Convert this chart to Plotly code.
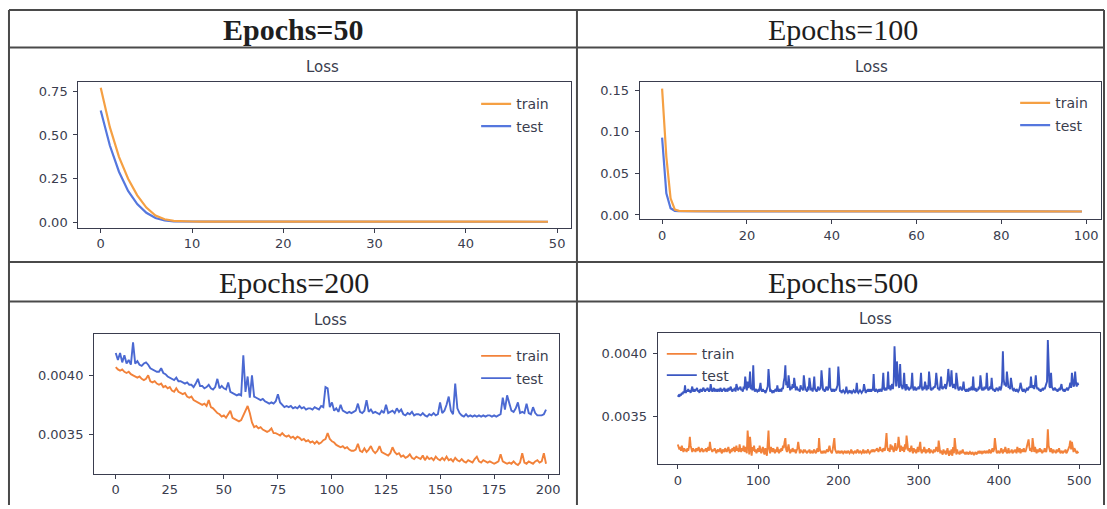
import plotly.graph_objects as go

W, H = 1107, 509

# ---------------- data ----------------
train_50 = [
    0.770, 0.545, 0.375, 0.250, 0.155, 0.085, 0.040, 0.018, 0.009, 0.006,
    0.0055, 0.0052, 0.0050, 0.0049, 0.0048, 0.0048, 0.0047, 0.0047, 0.0046, 0.0046,
    0.0046, 0.0045, 0.0045, 0.0045, 0.0045, 0.0044, 0.0044, 0.0044, 0.0044, 0.0044,
    0.0043, 0.0043, 0.0043, 0.0043, 0.0043, 0.0043, 0.0042, 0.0042, 0.0042, 0.0042,
    0.0042, 0.0042, 0.0042, 0.0041, 0.0041, 0.0041, 0.0041, 0.0041, 0.0041, 0.0041,
]
test_50 = [
    0.640, 0.440, 0.290, 0.180, 0.105, 0.055, 0.025, 0.011, 0.006, 0.0050,
    0.0048, 0.0047, 0.0046, 0.0046, 0.0045, 0.0045, 0.0045, 0.0044, 0.0044, 0.0044,
    0.0044, 0.0044, 0.0043, 0.0043, 0.0043, 0.0043, 0.0043, 0.0043, 0.0042, 0.0042,
    0.0042, 0.0042, 0.0042, 0.0042, 0.0042, 0.0041, 0.0041, 0.0041, 0.0041, 0.0041,
    0.0041, 0.0041, 0.0041, 0.0040, 0.0040, 0.0040, 0.0040, 0.0040, 0.0040, 0.0040,
]

train_100 = [
    0.152, 0.070, 0.020, 0.0065, 0.0050, 0.0047, 0.0046, 0.0046, 0.0045, 0.0045,
    0.0045, 0.0045, 0.0045, 0.0045, 0.0045, 0.0045, 0.0045, 0.0045, 0.0045, 0.0045,
    0.0045, 0.0045, 0.0045, 0.0045, 0.0045, 0.0045, 0.0045, 0.0045, 0.0045, 0.0045,
    0.0044, 0.0044, 0.0044, 0.0044, 0.0044, 0.0044, 0.0044, 0.0044, 0.0044, 0.0044,
    0.0044, 0.0044, 0.0044, 0.0044, 0.0044, 0.0044, 0.0044, 0.0044, 0.0044, 0.0044,
    0.0044, 0.0044, 0.0044, 0.0044, 0.0044, 0.0044, 0.0044, 0.0044, 0.0044, 0.0044,
    0.0043, 0.0043, 0.0043, 0.0043, 0.0043, 0.0043, 0.0043, 0.0043, 0.0043, 0.0043,
    0.0043, 0.0043, 0.0043, 0.0043, 0.0043, 0.0043, 0.0043, 0.0043, 0.0043, 0.0043,
    0.0043, 0.0043, 0.0043, 0.0043, 0.0043, 0.0043, 0.0043, 0.0043, 0.0043, 0.0043,
    0.0042, 0.0042, 0.0042, 0.0042, 0.0042, 0.0042, 0.0042, 0.0042, 0.0042, 0.0042,
]
test_100 = [
    0.093, 0.026, 0.008, 0.0050, 0.0045, 0.0044, 0.0044, 0.0044, 0.0044, 0.0044,
    0.0044, 0.0044, 0.0044, 0.0044, 0.0044, 0.0044, 0.0044, 0.0044, 0.0044, 0.0044,
    0.0044, 0.0044, 0.0044, 0.0044, 0.0044, 0.0044, 0.0044, 0.0044, 0.0044, 0.0044,
    0.0043, 0.0043, 0.0043, 0.0043, 0.0043, 0.0043, 0.0043, 0.0043, 0.0043, 0.0043,
    0.0043, 0.0043, 0.0043, 0.0043, 0.0043, 0.0043, 0.0043, 0.0043, 0.0043, 0.0043,
    0.0043, 0.0043, 0.0043, 0.0043, 0.0043, 0.0043, 0.0043, 0.0043, 0.0043, 0.0043,
    0.0042, 0.0042, 0.0042, 0.0042, 0.0042, 0.0042, 0.0042, 0.0042, 0.0042, 0.0042,
    0.0042, 0.0042, 0.0042, 0.0042, 0.0042, 0.0042, 0.0042, 0.0042, 0.0042, 0.0042,
    0.0042, 0.0042, 0.0042, 0.0042, 0.0042, 0.0042, 0.0042, 0.0042, 0.0042, 0.0042,
    0.0042, 0.0042, 0.0042, 0.0042, 0.0042, 0.0042, 0.0042, 0.0042, 0.0042, 0.0042,
]

train_200 = [
    0.00407, 0.00405, 0.00404, 0.00405, 0.00403, 0.00402, 0.00403, 0.00401, 0.00400, 0.00399,
    0.00398, 0.00399, 0.00397, 0.00396, 0.00397, 0.00400, 0.00395, 0.00394, 0.00395, 0.00393,
    0.00392, 0.00393, 0.00390, 0.00391, 0.00389, 0.00390, 0.00387, 0.00386, 0.00389, 0.00386,
    0.00385, 0.00384, 0.00385, 0.00382, 0.00381, 0.00382, 0.00379, 0.00378, 0.00377, 0.00376,
    0.00375, 0.00376, 0.00374, 0.00379, 0.00373, 0.00372, 0.00370, 0.00368, 0.00367, 0.00365,
    0.00366, 0.00364, 0.00367, 0.00370, 0.00364, 0.00363, 0.00362, 0.00361, 0.00362, 0.00366,
    0.00370, 0.00374, 0.00368, 0.00360, 0.00356, 0.00357, 0.00355, 0.00356, 0.00354, 0.00353,
    0.00352, 0.00353, 0.00355, 0.00351, 0.00351, 0.00350, 0.00349, 0.00351, 0.00349, 0.00348,
    0.00349, 0.00347, 0.00348, 0.00346, 0.00348, 0.00347, 0.00345, 0.00346, 0.00344, 0.00345,
    0.00343, 0.00344, 0.00342, 0.00344, 0.00342, 0.00343, 0.00345, 0.00346, 0.00351, 0.00346,
    0.00344, 0.00343, 0.00341, 0.00340, 0.00339, 0.00340, 0.00338, 0.00339, 0.00337, 0.00336,
    0.00336, 0.00337, 0.00342, 0.00336, 0.00335, 0.00338, 0.00335, 0.00337, 0.00340, 0.00336,
    0.00334, 0.00336, 0.00340, 0.00335, 0.00334, 0.00333, 0.00332, 0.00334, 0.00339, 0.00335,
    0.00333, 0.00334, 0.00331, 0.00332, 0.00330, 0.00331, 0.00333, 0.00330, 0.00329, 0.00331,
    0.00330, 0.00329, 0.00332, 0.00328, 0.00331, 0.00329, 0.00330, 0.00328, 0.00331, 0.00329,
    0.00328, 0.00330, 0.00328, 0.00331, 0.00328, 0.00329, 0.00327, 0.00330, 0.00328, 0.00327,
    0.00329, 0.00327, 0.00326, 0.00328, 0.00327, 0.00326, 0.00329, 0.00331, 0.00327, 0.00326,
    0.00328, 0.00327, 0.00326, 0.00327, 0.00326, 0.00325, 0.00326, 0.00327, 0.00333, 0.00327,
    0.00326, 0.00325, 0.00326, 0.00325, 0.00327, 0.00325, 0.00324, 0.00326, 0.00334, 0.00326,
    0.00325, 0.00327, 0.00326, 0.00325, 0.00327, 0.00328, 0.00326, 0.00327, 0.00334, 0.00325,
]
test_200 = [
    0.00419, 0.00413, 0.00419, 0.00411, 0.00417, 0.00410, 0.00413, 0.00409, 0.00428, 0.00410,
    0.00412, 0.00409, 0.00408, 0.00410, 0.00411, 0.00409, 0.00406, 0.00405, 0.00404, 0.00403,
    0.00403, 0.00406, 0.00402, 0.00401, 0.00399, 0.00398, 0.00397, 0.00396, 0.00398, 0.00395,
    0.00395, 0.00394, 0.00393, 0.00394, 0.00392, 0.00392, 0.00390, 0.00393, 0.00397, 0.00391,
    0.00391, 0.00389, 0.00390, 0.00392, 0.00389, 0.00388, 0.00390, 0.00397, 0.00389, 0.00391,
    0.00389, 0.00388, 0.00394, 0.00386, 0.00385, 0.00384, 0.00383, 0.00384, 0.00383, 0.00417,
    0.00386, 0.00399, 0.00381, 0.00400, 0.00382, 0.00381, 0.00380, 0.00379, 0.00380, 0.00378,
    0.00377, 0.00376, 0.00377, 0.00376, 0.00378, 0.00384, 0.00377, 0.00375, 0.00373, 0.00374,
    0.00373, 0.00374, 0.00372, 0.00373, 0.00372, 0.00374, 0.00372, 0.00373, 0.00371, 0.00372,
    0.00372, 0.00371, 0.00373, 0.00372, 0.00371, 0.00374, 0.00373, 0.00390, 0.00389, 0.00373,
    0.00377, 0.00370, 0.00372, 0.00369, 0.00375, 0.00370, 0.00369, 0.00368, 0.00369, 0.00368,
    0.00369, 0.00370, 0.00376, 0.00369, 0.00368, 0.00370, 0.00379, 0.00369, 0.00371, 0.00368,
    0.00369, 0.00368, 0.00367, 0.00370, 0.00368, 0.00375, 0.00368, 0.00369, 0.00370, 0.00368,
    0.00372, 0.00369, 0.00371, 0.00367, 0.00366, 0.00368, 0.00367, 0.00369, 0.00366, 0.00367,
    0.00367, 0.00366, 0.00368, 0.00366, 0.00365, 0.00367, 0.00366, 0.00368, 0.00366, 0.00367,
    0.00377, 0.00368, 0.00370, 0.00375, 0.00382, 0.00370, 0.00367, 0.00393, 0.00372, 0.00368,
    0.00366, 0.00365, 0.00367, 0.00365, 0.00366, 0.00365, 0.00366, 0.00365, 0.00366, 0.00365,
    0.00366, 0.00365, 0.00366, 0.00366, 0.00365, 0.00366, 0.00365, 0.00366, 0.00367, 0.00381,
    0.00371, 0.00383, 0.00376, 0.00370, 0.00369, 0.00372, 0.00377, 0.00368, 0.00369, 0.00368,
    0.00376, 0.00368, 0.00367, 0.00373, 0.00368, 0.00366, 0.00366, 0.00366, 0.00367, 0.00371,
]

# Epochs=500 losses, stored in units of 1e-5
LOSS_UNIT_500 = 1e-5
train_500_e5 = [
    328, 325, 324, 326, 323, 327, 324, 322, 325, 323, 324, 322, 325, 323, 326, 334, 327, 324, 322, 325,
    323, 324, 322, 325, 323, 324, 326, 323, 322, 324, 325, 323, 322, 324, 323, 325, 322, 324, 326, 323,
    330, 325, 323, 322, 324, 323, 325, 322, 321, 323, 324, 322, 323, 325, 322, 321, 324, 323, 322, 325,
    323, 322, 324, 326, 323, 321, 324, 322, 325, 323, 326, 322, 324, 327, 323, 325, 322, 328, 324, 322,
    325, 323, 327, 322, 326, 324, 321, 339, 325, 320, 334, 322, 319, 326, 323, 327, 322, 324, 321, 323,
    325, 322, 327, 323, 321, 324, 326, 322, 320, 325, 323, 319, 330, 339, 324, 321, 326, 323, 322, 325,
    323, 321, 324, 322, 326, 323, 321, 324, 322, 325, 323, 327, 325, 330, 333, 324, 322, 325, 328, 323,
    321, 324, 322, 325, 323, 322, 324, 321, 323, 325, 330, 323, 321, 324, 322, 323, 321, 324, 322, 323,
    322, 321, 323, 322, 324, 321, 322, 323, 321, 322, 324, 322, 321, 323, 325, 322, 333, 324, 322, 321,
    322, 321, 323, 322, 321, 323, 324, 322, 325, 327, 323, 322, 321, 324, 328, 333, 324, 322, 321, 322,
    323, 321, 322, 321, 323, 322, 321, 322, 323, 321, 322, 321, 323, 322, 321, 322, 324, 321, 322, 321,
    322, 323, 321, 322, 324, 322, 321, 323, 322, 321, 322, 324, 321, 322, 323, 321, 322, 324, 322, 321,
    322, 323, 322, 324, 323, 322, 324, 323, 325, 323, 322, 324, 326, 323, 324, 322, 325, 324, 323, 329,
    337, 326, 323, 325, 322, 328, 324, 327, 323, 322, 325, 329, 323, 324, 326, 334, 325, 322, 327, 324,
    323, 326, 322, 328, 324, 335, 327, 323, 325, 322, 324, 327, 323, 321, 325, 322, 324, 321, 323, 326,
    322, 325, 330, 323, 321, 324, 322, 326, 323, 321, 324, 322, 323, 325, 321, 324, 322, 323, 321, 324,
    322, 323, 326, 324, 322, 331, 325, 321, 323, 322, 320, 324, 321, 323, 320, 322, 325, 321, 319, 323,
    320, 324, 319, 326, 321, 333, 323, 320, 324, 321, 322, 320, 323, 321, 322, 324, 321, 322, 320, 322,
    321, 322, 320, 321, 322, 321, 320, 322, 321, 320, 321, 322, 320, 321, 322, 321, 323, 321, 322, 321,
    322, 321, 323, 322, 321, 323, 322, 321, 324, 322, 321, 323, 325, 322, 324, 333, 324, 322, 321, 323,
    322, 321, 323, 325, 322, 321, 324, 322, 326, 323, 321, 322, 325, 321, 323, 322, 324, 321, 322, 323,
    322, 324, 321, 326, 323, 322, 325, 321, 323, 324, 322, 325, 323, 322, 324, 327, 329, 332, 326, 323,
    325, 322, 333, 324, 322, 326, 323, 321, 324, 322, 323, 325, 322, 324, 321, 323, 322, 325, 323, 322,
    326, 340, 327, 324, 322, 325, 323, 321, 324, 322, 323, 321, 324, 322, 323, 325, 322, 321, 323, 322,
    321, 323, 322, 324, 321, 322, 323, 325, 327, 331, 324, 330, 326, 322, 325, 323, 322, 321, 322, 321,
]
test_500_e5 = [
    366, 367, 366, 368, 367, 369, 368, 370, 369, 375, 369, 371, 370, 372, 370, 371, 369, 372, 374, 370,
    371, 370, 372, 371, 373, 370, 371, 369, 372, 371, 370, 372, 373, 371, 370, 372, 371, 373, 372, 370,
    371, 376, 372, 370, 371, 373, 370, 372, 371, 370, 372, 371, 370, 373, 371, 370, 372, 371, 373, 370,
    371, 372, 370, 373, 371, 372, 374, 371, 370, 372, 371, 373, 370, 376, 372, 371, 373, 372, 374, 371,
    372, 370, 374, 372, 382, 373, 371, 378, 373, 375, 386, 372, 374, 371, 391, 373, 370, 372, 371, 370,
    371, 370, 373, 377, 371, 370, 372, 370, 371, 369, 370, 372, 374, 388, 372, 370, 371, 370, 369, 371,
    370, 371, 372, 370, 375, 371, 370, 372, 371, 370, 373, 372, 378, 381, 391, 375, 378, 373, 383, 372,
    371, 374, 372, 376, 373, 381, 372, 371, 374, 373, 371, 372, 370, 375, 372, 373, 371, 383, 372, 371,
    372, 370, 374, 371, 381, 372, 371, 373, 370, 374, 382, 372, 371, 370, 372, 374, 371, 372, 373, 387,
    373, 371, 372, 370, 371, 374, 372, 371, 375, 389, 373, 371, 370, 372, 371, 370, 372, 371, 373, 375,
    390, 372, 370, 371, 369, 370, 371, 370, 369, 370, 374, 370, 369, 370, 371, 369, 370, 369, 370, 371,
    370, 369, 371, 377, 370, 369, 370, 371, 370, 369, 370, 371, 376, 370, 369, 370, 371, 370, 372, 370,
    371, 370, 372, 371, 384, 371, 370, 372, 371, 370, 371, 370, 372, 371, 370, 374, 385, 372, 371, 373,
    371, 374, 386, 372, 375, 371, 373, 376, 372, 378, 406, 380, 374, 394, 377, 375, 373, 392, 376, 374,
    372, 375, 385, 373, 371, 376, 372, 374, 371, 373, 372, 375, 385, 373, 371, 374, 372, 371, 373, 372,
    374, 372, 376, 385, 373, 371, 374, 372, 378, 373, 371, 375, 372, 386, 374, 372, 371, 373, 372, 374,
    373, 376, 385, 374, 372, 373, 371, 375, 382, 373, 372, 374, 373, 376, 372, 375, 379, 388, 376, 374,
    378, 387, 375, 373, 376, 374, 372, 385, 374, 373, 371, 372, 374, 372, 371, 373, 378, 372, 371, 370,
    372, 371, 370, 373, 371, 372, 374, 371, 382, 372, 371, 373, 370, 372, 371, 374, 372, 383, 373, 371,
    372, 371, 374, 372, 373, 385, 373, 371, 372, 374, 372, 381, 373, 371, 372, 370, 371, 373, 372, 371,
    372, 374, 371, 373, 378, 402, 380, 375, 377, 374, 386, 376, 373, 374, 372, 381, 373, 372, 371, 372,
    371, 370, 372, 371, 370, 371, 373, 377, 372, 371, 370, 372, 371, 370, 371, 373, 371, 372, 374, 373,
    382, 374, 373, 375, 372, 376, 383, 374, 372, 373, 371, 372, 370, 371, 372, 371, 373, 372, 374, 376,
    378, 411, 380, 374, 373, 385, 374, 372, 371, 372, 373, 371, 372, 370, 371, 372, 371, 373, 376, 372,
    371, 372, 370, 371, 372, 373, 371, 372, 374, 377, 373, 385, 376, 374, 375, 386, 378, 374, 377, 375,
]
train_500 = [v * LOSS_UNIT_500 for v in train_500_e5]
test_500 = [v * LOSS_UNIT_500 for v in test_500_e5]

headers = ["<b>Epochs=50</b>", "Epochs=100", "Epochs=200", "Epochs=500"]
panel_title = "Loss"
series_names = ["train", "test"]

# ---------------- layout helpers (pixel -> paper) ----------------
def fx(p):
    return p / W


def fy(p):
    return 1 - p / H


AXIS_COLOR = "#3a3d4e"
TICK_FONT = dict(family="DejaVu Sans", size=13, color="#3a3d4e")

panels = [
    dict(data=(train_50, test_50), box=(78.5, 83, 572.5, 229.5),
         xr=(-2.45, 51.57), yr=(-0.030, 0.801), xd=10, yvals=[0, 0.25, 0.5, 0.75], yfmt=".2f",
         colors=("#f5a043", "#5577de"), lw=2.2, legend=(477, 89),
         header=(294, 30), title=(323, 68)),
    dict(data=(train_100, test_100), box=(641, 83, 1103, 220.7),
         xr=(-5.25, 103.5), yr=(-0.0048, 0.1595), xd=20, yvals=[0, 0.05, 0.10, 0.15], yfmt=".2f",
         colors=("#f5a043", "#5577de"), lw=2.2, legend=(1017, 88),
         header=(845, 30), title=(873, 68)),
    dict(data=(train_200, test_200), box=(94.3, 336.7, 560, 477.3),
         xr=(-10.0, 205.0), yr=(0.003167, 0.004350), xd=25, yvals=[0.0035, 0.0040], yfmt=".4f",
         colors=("#f2823a", "#4b69d2"), lw=1.9, legend=(477, 343),
         header=(295, 285), title=(331, 323)),
    dict(data=(train_500, test_500), box=(659, 336, 1102, 467.5),
         xr=(-24.9, 526.0), yr=(0.003126, 0.004163), xd=100, yvals=[0.0035, 0.0040], yfmt=".4f",
         colors=("#f2823a", "#3b57c2"), lw=1.9, legend=(663, 341),
         header=(845, 285), title=(877, 322)),
]

fig = go.Figure()
layout = dict(
    width=W, height=H, margin=dict(l=0, r=0, t=0, b=0),
    paper_bgcolor="white", plot_bgcolor="white",
    font=dict(family="DejaVu Sans", size=13, color="#333"),
    showlegend=True,
)
annotations = []
shapes = []

for i, p in enumerate(panels, start=1):
    sfx = "" if i == 1 else str(i)
    xa, ya = f"x{sfx}", f"y{sfx}"
    lg = "legend" if i == 1 else f"legend{i}"
    tr, te = p["data"]
    c_tr, c_te = p["colors"]
    # test drawn first so train sits on top where they overlap
    fig.add_trace(go.Scatter(x=list(range(len(te))), y=te, mode="lines", name=series_names[1],
                             line=dict(color=c_te, width=p["lw"]), xaxis=xa, yaxis=ya,
                             legend=lg, legendrank=2, legendgroup=f"test{i}"))
    fig.add_trace(go.Scatter(x=list(range(len(tr))), y=tr, mode="lines", name=series_names[0],
                             line=dict(color=c_tr, width=p["lw"]), xaxis=xa, yaxis=ya,
                             legend=lg, legendrank=1, legendgroup=f"train{i}"))
    x0, y0, x1, y1 = p["box"]
    layout[f"xaxis{sfx}"] = dict(
        domain=[fx(x0), fx(x1)], range=list(p["xr"]), anchor=ya,
        tick0=0, dtick=p["xd"], ticks="outside", ticklen=4, tickwidth=1, tickcolor=AXIS_COLOR,
        showline=True, mirror=True, linecolor=AXIS_COLOR, linewidth=1.2,
        showgrid=False, zeroline=False, tickfont=TICK_FONT,
    )
    layout[f"yaxis{sfx}"] = dict(
        domain=[fy(y1), fy(y0)], range=list(p["yr"]), anchor=xa,
        tickmode="array", tickvals=p["yvals"], tickformat=p["yfmt"],
        ticks="outside", ticklen=4, tickwidth=1, tickcolor=AXIS_COLOR,
        showline=True, mirror=True, linecolor=AXIS_COLOR, linewidth=1.2,
        showgrid=False, zeroline=False, tickfont=TICK_FONT, ticklabelstandoff=3,
    )
    lx, ly = p["legend"]
    layout[lg] = dict(
        x=fx(lx), y=fy(ly), xanchor="left", yanchor="top", xref="paper", yref="paper",
        bgcolor="rgba(0,0,0,0)", borderwidth=0, itemwidth=30,
        font=dict(family="DejaVu Sans", size=14, color="#3a3d4e"),
        tracegroupgap=1 if i < 4 else 0, traceorder="grouped",
    )
    hx, hy = p["header"]
    annotations.append(dict(
        text=headers[i - 1], x=fx(hx), y=fy(hy), xref="paper", yref="paper",
        xanchor="center", yanchor="middle", showarrow=False,
        font=dict(family="Liberation Serif", size=30, color="#1e1e1e"),
    ))
    tx, ty = p["title"]
    annotations.append(dict(
        text=panel_title, x=fx(tx), y=fy(ty), xref="paper", yref="paper",
        xanchor="center", yanchor="middle", showarrow=False,
        font=dict(family="DejaVu Sans", size=15, color="#3a3d4e"),
    ))

# table grid lines
TABLE = "#4a4a4a"
def hline(y, xa=9, xb=1106):
    shapes.append(dict(type="line", xref="paper", yref="paper", x0=fx(xa), x1=fx(xb),
                       y0=fy(y), y1=fy(y), line=dict(color=TABLE, width=2)))

def vline(x, ya=10, yb=509):
    shapes.append(dict(type="line", xref="paper", yref="paper", x0=fx(x), x1=fx(x),
                       y0=fy(ya), y1=fy(yb), line=dict(color=TABLE, width=2)))

for yy in (10, 48, 264, 304):
    hline(yy)
for xx in (9, 578, 1106):
    vline(xx)

layout["annotations"] = annotations
layout["shapes"] = shapes
fig.update_layout(**layout)

fig.write_html("out.html")
